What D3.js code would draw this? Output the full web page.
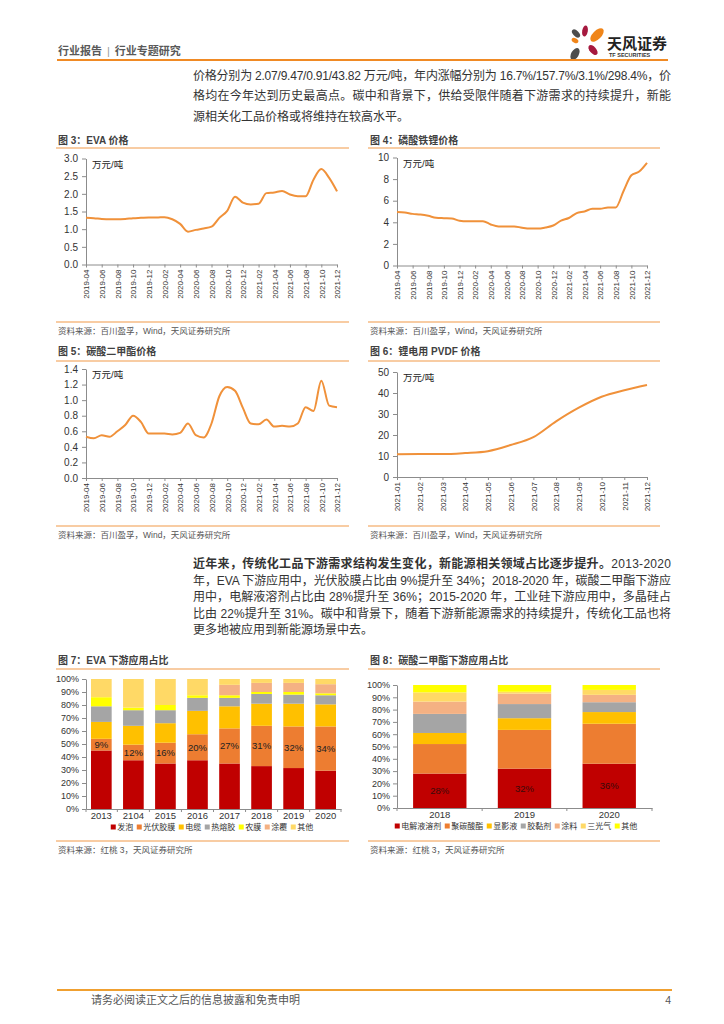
<!DOCTYPE html>
<html>
<head>
<meta charset="utf-8">
<script src="https://cdn.jsdelivr.net/npm/d3@7"></script>
<style>
  body { margin: 0; background: #fff; }
  svg { display: block; }
  text { font-family: "Liberation Sans", "Noto Sans CJK SC", sans-serif; }
</style>
</head>
<body>
<svg width="724" height="1024"></svg>
<script>
"use strict";

// ---- data ----
const months = [
  "2019-04", "2019-05", "2019-06", "2019-07", "2019-08", "2019-09", "2019-10", "2019-11", "2019-12",
  "2020-01", "2020-02", "2020-03", "2020-04", "2020-05", "2020-06", "2020-07", "2020-08", "2020-09",
  "2020-10", "2020-11", "2020-12", "2021-01", "2021-02", "2021-03", "2021-04", "2021-05", "2021-06",
  "2021-07", "2021-08", "2021-09", "2021-10", "2021-11", "2021-12"
];
const monthTicks = [
  "2019-04", "2019-06", "2019-08", "2019-10", "2019-12", "2020-02", "2020-04", "2020-06", "2020-08",
  "2020-10", "2020-12", "2021-02", "2021-04", "2021-06", "2021-08", "2021-10", "2021-12"
];
const evaPrice = [1.32, 1.31, 1.29, 1.28, 1.28, 1.29, 1.31, 1.32, 1.33,
  1.33, 1.34, 1.28, 1.15, 0.93, 0.98, 1.02, 1.07, 1.32, 1.52, 1.92, 1.75,
  1.70, 1.72, 2.02, 2.04, 2.08, 1.98, 1.93, 1.93, 2.40, 2.70, 2.45, 2.07];
const lfpPrice = [4.95, 4.9, 4.78, 4.72, 4.6, 4.42, 4.38, 4.35, 4.15,
  4.1, 4.1, 4.1, 3.8, 3.62, 3.62, 3.62, 3.5, 3.42, 3.42, 3.52, 3.7,
  4.15, 4.4, 4.85, 5.0, 5.25, 5.25, 5.38, 5.38, 6.9, 8.35, 8.7, 9.5];
const dmcPrice = [0.53, 0.51, 0.55, 0.53, 0.60, 0.68, 0.80, 0.72, 0.57,
  0.57, 0.57, 0.56, 0.58, 0.70, 0.55, 0.52, 0.70, 1.05, 1.17, 1.12, 0.90,
  0.70, 0.69, 0.75, 0.66, 0.67, 0.66, 0.70, 0.91, 0.86, 1.25, 0.93, 0.91];

const pvdfMonths = ["2021-01", "2021-02", "2021-03", "2021-04", "2021-05", "2021-06",
  "2021-07", "2021-08", "2021-09", "2021-10", "2021-11", "2021-12"];
const pvdfPrice = [10.8, 10.9, 10.9, 11.4, 12.3, 15.2, 19, 26.5, 33, 38.2, 41.3, 43.82];

const evaYears = ["2013", "2104", "2015", "2016", "2017", "2018", "2019", "2020"];
const evaKeys = ["发泡", "光伏胶膜", "电缆", "热熔胶", "农膜", "涂覆", "其他"];
const evaFoam = [45, 37.5, 35, 37.5, 35, 33, 31.5, 29.5];
const evaPV = [9, 12, 16, 20, 27, 31, 32, 34];
const evaCable = [13, 14.5, 15, 18, 17, 17, 17.5, 17];
const evaHotmelt = [12, 12, 10, 10, 6.5, 7.5, 7, 7];
const evaFarm = [7, 2, 4, 2, 2, 1.5, 2, 1.5];
const evaCoat = [0, 0, 0, 0, 8, 7, 7, 7];
const evaOther = [14, 22, 20, 12.5, 4.5, 3, 3, 4];

const dmcYears = ["2018", "2019", "2020"];
const dmcKeys = ["电解液溶剂", "聚碳酸酯", "显影液", "胶黏剂", "涂料", "三光气", "其他"];
const dmcElec = [28, 32, 36];
const dmcPC = [24, 31.5, 32.5];
const dmcDev = [9, 9.5, 9.5];
const dmcAdh = [15.5, 11.5, 8];
const dmcPaint = [10, 8.5, 6];
const dmcPhos = [7.5, 1.5, 4];
const dmcOther = [6, 5.5, 4];

const pctTicks = [0, 10, 20, 30, 40, 50, 60, 70, 80, 90, 100];

// ---- page ----
const svg = d3.select("svg");
svg.append("rect").attr("width", 724).attr("height", 1024).attr("fill", "#fff");

// header
const head = svg.append("text").attr("x", 58).attr("y", 55).attr("font-size", 11)
  .attr("font-weight", "bold").attr("fill", "#595959");
head.append("tspan").text("行业报告");
head.append("tspan").attr("font-weight", "normal").attr("fill", "#999").attr("dx", 5).text("|");
head.append("tspan").attr("dx", 5).text("行业专题研究");

// logo petals
const petals = [
  { x: 2, y: -11, rx: 2.8, ry: 5.5, r: 10, c: "#a6193f" },
  { x: -7, y: -8.5, rx: 2.8, ry: 5, r: -45, c: "#4d4d4d" },
  { x: 14, y: -7, rx: 4.3, ry: 8.5, r: 45, c: "#f08519" },
  { x: -8, y: -1.5, rx: 2.3, ry: 3.6, r: -60, c: "#f08519" },
  { x: 10, y: 8, rx: 3.3, ry: 6, r: -40, c: "#a6193f" },
  { x: -8, y: 12, rx: 3.8, ry: 6.5, r: 30, c: "#4d4d4d" }
];
svg.append("g").attr("transform", "translate(583,42)")
  .selectAll("ellipse").data(petals).join("ellipse")
  .attr("transform", (d) => `translate(${d.x},${d.y}) rotate(${d.r})`)
  .attr("rx", (d) => d.rx).attr("ry", (d) => d.ry).attr("fill", (d) => d.c);
svg.append("text").attr("x", 607).attr("y", 48.5).attr("font-size", 15).attr("font-weight", "bold")
  .attr("fill", "#222").text("天风证券");
svg.append("text").attr("x", 609).attr("y", 57).attr("font-size", 5.5).attr("font-weight", "bold")
  .attr("fill", "#333").text("TF SECURITIES");
svg.append("line").attr("x1", 57).attr("x2", 668).attr("y1", 60).attr("y2", 60)
  .attr("stroke", "#f08a24").attr("stroke-width", 2);

// body text
function paragraph(lines, y0, lh) {
  lines.forEach((ln, i) => {
    const t = svg.append("text").attr("x", 193).attr("y", y0 + i * lh)
      .attr("font-size", 12).attr("fill", "#333");
    ln.parts.forEach((p) => t.append("tspan").attr("font-weight", p.b ? "bold" : null).text(p.t));
    if (ln.full) t.attr("textLength", 478).attr("lengthAdjust", "spacing");
  });
}

paragraph([
  { full: true, parts: [{ t: "价格分别为 2.07/9.47/0.91/43.82 万元/吨，年内涨幅分别为 16.7%/157.7%/3.1%/298.4%，价" }] },
  { full: true, parts: [{ t: "格均在今年达到历史最高点。碳中和背景下，供给受限伴随着下游需求的持续提升，新能" }] },
  { full: false, parts: [{ t: "源相关化工品价格或将维持在较高水平。" }] }
], 79.5, 20.5);

paragraph([
  { full: true, parts: [{ t: "近年来，传统化工品下游需求结构发生变化，新能源相关领域占比逐步提升。", b: true }, { t: "2013-2020" }] },
  { full: true, parts: [{ t: "年，EVA 下游应用中，光伏胶膜占比由 9%提升至 34%；2018-2020 年，碳酸二甲酯下游应" }] },
  { full: true, parts: [{ t: "用中，电解液溶剂占比由 28%提升至 36%；2015-2020 年，工业硅下游应用中，多晶硅占" }] },
  { full: true, parts: [{ t: "比由 22%提升至 31%。碳中和背景下，随着下游新能源需求的持续提升，传统化工品也将" }] },
  { full: false, parts: [{ t: "更多地被应用到新能源场景中去。" }] }
], 568, 16.5);

// chart frames: title, rules, source
function frame(o) {
  svg.append("text").attr("x", o.x).attr("y", o.ty + 3.5).attr("font-size", 10)
    .attr("font-weight", "bold").attr("fill", "#404040").text(o.title);
  svg.append("line").attr("x1", o.x - 2).attr("x2", o.x2).attr("y1", o.tl).attr("y2", o.tl)
    .attr("stroke", "#f6bb84").attr("stroke-width", 1.4);
  svg.append("line").attr("x1", o.x - 2).attr("x2", o.x2).attr("y1", o.bl).attr("y2", o.bl)
    .attr("stroke", "#f6bb84").attr("stroke-width", 1.4);
  svg.append("text").attr("x", o.x).attr("y", o.bl + 12).attr("font-size", 8.5)
    .attr("fill", "#555").text(o.source);
}

function styleAxis(g, size) {
  g.attr("font-size", size);
  g.selectAll("path, line").attr("stroke", "#8c8c8c");
  g.selectAll("text").attr("fill", "#333");
}

function lineChart(o) {
  const x = d3.scalePoint().domain(o.months).range([o.x0, o.x1]);
  const y = d3.scaleLinear().domain([0, o.ymax]).range([o.yb, o.yt]);

  const gy = svg.append("g").attr("transform", `translate(${o.x0},0)`)
    .call(d3.axisLeft(y).tickValues(o.yticks).tickFormat(o.fmt).tickSize(4).tickSizeOuter(0).tickPadding(4));
  styleAxis(gy, 10);

  const gx = svg.append("g").attr("transform", `translate(0,${o.yb})`)
    .call(d3.axisBottom(x).tickValues(o.xticks).tickSize(3).tickSizeOuter(0));
  styleAxis(gx, 8);
  gx.selectAll("text")
    .attr("transform", "rotate(-90)")
    .attr("text-anchor", "end")
    .attr("x", -5)
    .attr("y", 0)
    .attr("dy", "0.35em");

  svg.append("path").datum(o.values)
    .attr("fill", "none").attr("stroke", "#f0913a").attr("stroke-width", 2)
    .attr("d", d3.line().x((d, i) => x(o.months[i])).y((d) => y(d)).curve(d3.curveMonotoneX));

  svg.append("text").attr("x", o.x0 + 6).attr("y", o.yt + 9).attr("font-size", 9.5)
    .attr("fill", "#222").text("万元/吨");
}

function stackChart(o) {
  const x = d3.scaleBand().domain(o.cats).range([o.x0, o.x1]).paddingInner(o.pi).paddingOuter(o.po);
  const y = d3.scaleLinear().domain([0, 100]).range([o.yb, o.yt]);

  const rows = o.cats.map((c, i) => {
    const r = { cat: c };
    o.keys.forEach((k, j) => (r[k] = o.series[j][i]));
    return r;
  });
  const stacked = d3.stack().keys(o.keys)(rows);

  svg.append("g").selectAll("g").data(stacked).join("g")
    .attr("fill", (d, i) => o.colors[i])
    .selectAll("rect").data((d) => d).join("rect")
    .attr("x", (d) => x(d.data.cat))
    .attr("width", x.bandwidth())
    .attr("y", (d) => y(d[1]))
    .attr("height", (d) => y(d[0]) - y(d[1]));

  // value labels
  svg.append("g").selectAll("text").data(stacked[o.labelIdx]).join("text")
    .attr("x", (d) => x(d.data.cat) + x.bandwidth() / 2)
    .attr("y", (d) => y((d[0] + d[1]) / 2))
    .attr("dy", "0.35em")
    .attr("text-anchor", "middle")
    .attr("font-size", 9.5)
    .attr("fill", o.labelColor)
    .text((d, i) => o.series[o.labelIdx][i] + "%");

  const gy = svg.append("g").attr("transform", `translate(${o.x0},0)`)
    .call(d3.axisLeft(y).tickValues(pctTicks).tickFormat((d) => d + "%").tickSize(4).tickSizeOuter(0).tickPadding(3));
  styleAxis(gy, 9);

  const gx = svg.append("g").attr("transform", `translate(0,${o.yb})`)
    .call(d3.axisBottom(x).tickSize(0).tickPadding(3).tickSizeOuter(0));
  styleAxis(gx, 9.5);
  const edges = [o.x0].concat(o.cats.slice(1).map((c) => x(c) - (x.step() * o.pi) / 2), [o.x1]);
  gx.selectAll(".edge").data(edges).join("line").attr("class", "edge")
    .attr("x1", (d) => d).attr("x2", (d) => d).attr("y1", 0).attr("y2", 3)
    .attr("stroke", "#8c8c8c");

  // legend
  const lg = svg.append("g").attr("font-size", 8).attr("fill", "#333");
  let cx = 0;
  o.keys.forEach((k, i) => {
    const it = lg.append("g").attr("transform", `translate(${cx},0)`);
    it.append("rect").attr("x", 0).attr("y", -2.5).attr("width", 5).attr("height", 5).attr("fill", o.colors[i]);
    const t = it.append("text").attr("x", 6.5).attr("dy", "0.35em").text(k);
    cx += 6.5 + t.node().getComputedTextLength() + 3.5;
  });
  lg.attr("transform", `translate(${o.lcx - (cx - 3.5) / 2},${o.ly})`);
}

// ---- charts ----
const src1 = "资料来源：百川盈孚，Wind，天风证券研究所";
const src2 = "资料来源：红桃 3，天风证券研究所";

frame({ x: 58, x2: 349, ty: 140, tl: 148, bl: 322, title: "图 3：EVA 价格", source: src1 });
frame({ x: 370, x2: 660, ty: 140, tl: 148, bl: 322, title: "图 4：磷酸铁锂价格", source: src1 });
frame({ x: 58, x2: 349, ty: 351, tl: 361, bl: 526, title: "图 5：碳酸二甲酯价格", source: src1 });
frame({ x: 370, x2: 660, ty: 351, tl: 361, bl: 526, title: "图 6：锂电用 PVDF 价格", source: src1 });
frame({ x: 58, x2: 349, ty: 660, tl: 669, bl: 841, title: "图 7：EVA 下游应用占比", source: src2 });
frame({ x: 370, x2: 660, ty: 660, tl: 669, bl: 841, title: "图 8：碳酸二甲酯下游应用占比", source: src2 });

lineChart({ months: months, xticks: monthTicks, values: evaPrice, ymax: 3,
  yticks: [0, 0.5, 1, 1.5, 2, 2.5, 3], fmt: d3.format(".1f"),
  x0: 86, x1: 337, yt: 158.5, yb: 264.5 });
lineChart({ months: months, xticks: monthTicks, values: lfpPrice, ymax: 10,
  yticks: [0, 2, 4, 6, 8, 10], fmt: d3.format("d"),
  x0: 397, x1: 647, yt: 157.5, yb: 265.5 });
lineChart({ months: months, xticks: monthTicks, values: dmcPrice, ymax: 1.4,
  yticks: [0, 0.2, 0.4, 0.6, 0.8, 1.0, 1.2, 1.4], fmt: d3.format(".1f"),
  x0: 86, x1: 337, yt: 369, yb: 478 });
lineChart({ months: pvdfMonths, xticks: pvdfMonths, values: pvdfPrice, ymax: 50,
  yticks: [0, 10, 20, 30, 40, 50], fmt: d3.format("d"),
  x0: 397, x1: 647, yt: 372, yb: 477 });

stackChart({ cats: evaYears, keys: evaKeys,
  series: [evaFoam, evaPV, evaCable, evaHotmelt, evaFarm, evaCoat, evaOther],
  colors: ["#c00000", "#ed7d31", "#ffc000", "#a5a5a5", "#ffff00", "#f4b183", "#ffd966"],
  labelIdx: 1, labelColor: "#222",
  x0: 86, x1: 341, yt: 679, yb: 809, pi: 0.355, po: 0.156, lcx: 212, ly: 827 });
stackChart({ cats: dmcYears, keys: dmcKeys,
  series: [dmcElec, dmcPC, dmcDev, dmcAdh, dmcPaint, dmcPhos, dmcOther],
  colors: ["#c00000", "#ed7d31", "#ffc000", "#a5a5a5", "#f4b183", "#ffd966", "#ffff00"],
  labelIdx: 0, labelColor: "#3a0a0a",
  x0: 397, x1: 652, yt: 685, yb: 808, pi: 0.37, po: 0.19, lcx: 516, ly: 826 });

// footer
svg.append("line").attr("x1", 57).attr("x2", 672).attr("y1", 990).attr("y2", 990)
  .attr("stroke", "#f0a030").attr("stroke-width", 2);
svg.append("text").attr("x", 91).attr("y", 1004).attr("font-size", 11).attr("fill", "#555")
  .text("请务必阅读正文之后的信息披露和免责申明");
svg.append("text").attr("x", 671).attr("y", 1004).attr("font-size", 10.5).attr("fill", "#555")
  .attr("text-anchor", "end").text("4");
</script>
</body>
</html>
